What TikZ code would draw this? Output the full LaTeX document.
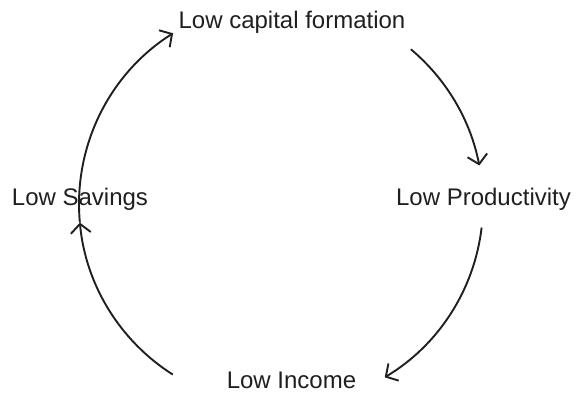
\documentclass[tikz,border=0pt]{standalone}
\usepackage{fontspec}
\setmainfont{Liberation Sans}
\usetikzlibrary{arrows.meta,calc}
\begin{document}
\begin{tikzpicture}[x=1pt,y=1pt,
  lbl/.style={anchor=base,inner sep=0pt,font=\fontsize{24}{28}\selectfont,text=black!88},
  conn/.style={line width=1.9pt,black!88,-{Straight Barb[length=9pt,width=20pt,line width=1.9pt]}}]
\useasboundingbox (0,0) rectangle (576,392);
\node[lbl] (cap) at (292,363) {Low capital formation};
\node[lbl] (prod) at (483.5,187) {Low Productivity};
\node[lbl] (sav) at (80,187) {Low Savings};
\node[lbl] (inc) at (291.5,4) {Low Income};
\coordinate (c) at (281,188);
\def\R{202}
\coordinate (a1) at ($(c)+(50:\R)$);
\coordinate (a2) at ($(c)+(-6.7:\R)$);
\coordinate (a3) at ($(c)+(237.6:\R)$);
\coordinate (b3) at ($(c)+(185.3:\R)$);
\draw[conn] (a1) arc[start angle=50,end angle=11,radius=\R];
\draw[conn] (a2) arc[start angle=-6.7,end angle=-59.1,radius=\R];
\draw[conn] (a3) arc[start angle=237.6,end angle=185.3,radius=\R];
\draw[conn] (b3) arc[start angle=185.3,end angle=122.3,radius=\R];
\end{tikzpicture}
\end{document}
